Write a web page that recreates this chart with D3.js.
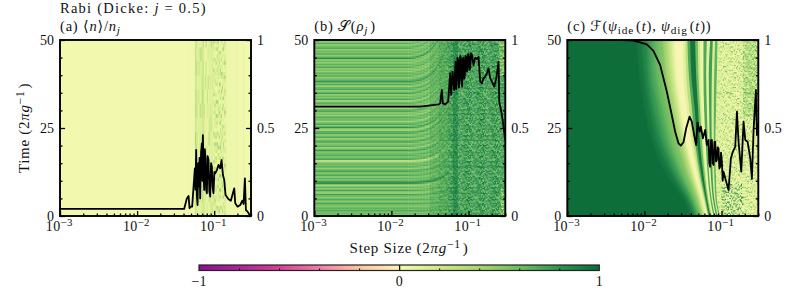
<!DOCTYPE html>
<html>
<head>
<meta charset="utf-8">
<script src="https://cdn.jsdelivr.net/npm/d3@7"></script>
<style>
html, body { margin: 0; padding: 0; background: #fff; }
text { font-family: "Liberation Serif", "DejaVu Serif", "DejaVu Sans", serif; fill: #111; }
</style>
</head>
<body>
<svg id="chart" width="799" height="288"></svg>
<script>
// axis values
const xMajorTicks = [1e-3, 1e-2, 1e-1];
const xMinorTicks = [2e-3, 3e-3, 4e-3, 5e-3, 6e-3, 7e-3, 8e-3, 9e-3, 2e-2, 3e-2, 4e-2, 5e-2, 6e-2, 7e-2, 8e-2, 9e-2, 2e-1, 3e-1];
const timeMajorTicks = [0, 25, 50];
const timeMinorTicks = [5, 10, 15, 20, 30, 35, 40, 45];
const fracMajorTicks = [0, 0.5, 1];
const fracMinorTicks = [0.1, 0.2, 0.3, 0.4, 0.6, 0.7, 0.8, 0.9];

// colour map
const cmapValues = [-1, -0.8, -0.6, -0.4, -0.2, -0.01, 0.01, 0.2, 0.4, 0.6, 0.8, 1];
const cmapColors = ['#8f0f8f', '#ad2598', '#d83f96', '#f07eab', '#fdc4a4', '#fdf0b5', '#f2f9af', '#cfe98a', '#a9d672', '#6fbd61', '#2f9450', '#0a6a38'];
const colorbarMinorTicks = [-0.8, -0.6, -0.4, -0.2, 0.2, 0.4, 0.6, 0.8];

// black curves, x is log10 of the step size
const lineALog = [-3, -1.39, -1.355, -1.333, -1.32, -1.303, -1.286, -1.251, -1.243, -1.234, -1.225, -1.216, -1.207, -1.199, -1.19, -1.182, -1.171, -1.16, -1.153, -1.147, -1.139, -1.13, -1.122, -1.113, -1.104, -1.095, -1.085, -1.074, -1.063, -1.052, -1.041, -1.03, -1.02, -1.009, -0.998, -0.987, -0.965, -0.944, -0.922, -0.905, -0.887, -0.87, -0.853, -0.814, -0.784, -0.758, -0.74, -0.727, -0.697, -0.662, -0.636, -0.619, -0.602, -0.589, -0.567, -0.532];
const lineAValue = [0.04, 0.04, 0.1, 0.114, 0.044, 0.053, 0.053, 0.271, 0.15, 0.375, 0.12, 0.0625, 0.3, 0.167, 0.33, 0.1, 0.36, 0.413, 0.2, 0.46, 0.25, 0.148, 0.38, 0.328, 0.15, 0.129, 0.34, 0.318, 0.14, 0.11, 0.3, 0.28, 0.16, 0.129, 0.25, 0.242, 0.261, 0.29, 0.271, 0.318, 0.233, 0.205, 0.119, 0.095, 0.087, 0.129, 0.157, 0.072, 0.053, 0.0625, 0.087, 0.068, 0.214, 0.034, 0.025, 0];

const lineBLog = [-3, -1.627, -1.389, -1.368, -1.346, -1.333, -1.303, -1.264, -1.238, -1.225, -1.207, -1.186, -1.168, -1.16, -1.151, -1.143, -1.134, -1.125, -1.116, -1.108, -1.099, -1.09, -1.082, -1.074, -1.065, -1.056, -1.047, -1.038, -1.03, -1.021, -1.013, -1.004, -0.995, -0.986, -0.978, -0.967, -0.956, -0.935, -0.913, -0.891, -0.87, -0.848, -0.826, -0.805, -0.783, -0.761, -0.74, -0.718, -0.697, -0.666, -0.64, -0.61, -0.601, -0.588, -0.567, -0.545, -0.525];
const lineBValue = [0.622, 0.622, 0.634, 0.64, 0.716, 0.64, 0.634, 0.65, 0.811, 0.688, 0.82, 0.716, 0.877, 0.72, 0.782, 0.9, 0.886, 0.73, 0.782, 0.91, 0.896, 0.76, 0.735, 0.89, 0.9, 0.78, 0.801, 0.91, 0.905, 0.82, 0.839, 0.92, 0.911, 0.83, 0.839, 0.925, 0.915, 0.858, 0.9, 0.892, 0.905, 0.763, 0.754, 0.782, 0.792, 0.811, 0.839, 0.782, 0.763, 0.735, 0.782, 0.877, 0.65, 0.621, 0.574, 0.508, 0.43];

const lineCLog = [-3, -2.3, -2.15, -2.056, -1.969, -1.883, -1.796, -1.709, -1.645, -1.601, -1.558, -1.528, -1.493, -1.458, -1.415, -1.385, -1.355, -1.329, -1.311, -1.285, -1.268, -1.242, -1.212, -1.19, -1.168, -1.158, -1.147, -1.136, -1.125, -1.114, -1.103, -1.092, -1.082, -1.071, -1.06, -1.05, -1.039, -1.028, -1.017, -1.006, -0.995, -0.985, -0.974, -0.939, -0.909, -0.878, -0.852, -0.822, -0.8, -0.779, -0.744, -0.714, -0.692, -0.662, -0.627, -0.606, -0.584, -0.554, -0.541, -0.523];
const lineCValue = [1, 1, 0.997, 0.987, 0.975, 0.938, 0.858, 0.706, 0.574, 0.479, 0.413, 0.4, 0.419, 0.498, 0.564, 0.536, 0.46, 0.403, 0.532, 0.479, 0.508, 0.441, 0.489, 0.403, 0.432, 0.3, 0.28, 0.43, 0.432, 0.3, 0.29, 0.42, 0.422, 0.31, 0.318, 0.39, 0.384, 0.27, 0.28, 0.36, 0.309, 0.2, 0.252, 0.195, 0.148, 0.328, 0.366, 0.394, 0.593, 0.422, 0.252, 0.536, 0.432, 0.422, 0.328, 0.21, 0.489, 0.716, 0.46, 0.527];

// panel (a): vertical bands
const aBase = 0.01;
const aBandLog = [-1.34, -1.33, -1.25, -1.225, -1.165, -1.13, -1.07, -1.009, -0.857, -0.83, -0.8, -0.79, -0.7, -0.69, -0.62, -0.61];
const aBandValue = [0.05, 0.02, 0.36, 0.12, 0.26, 0.08, 0.13, 0.08, 0.07, 0.03, 0.08, 0.03, 0.07, 0.02, 0.07];
const aNoiseLevels = [0.02, 0.04, 0.06, 0.08, 0.1, 0.13, 0.16, 0.2, 0.28, 0.42];

// panel (b): horizontal stripes, top row first
const bRowValues = [0.6, 0.52, 0.68, 0.5, 0.6, 0.72, 0.48, 0.62, 0.55, 0.7, 0.5, 0.62, 0.85, 0.5, 0.62, 0.46, 0.66, 0.55, 0.72, 0.5, 0.6, 0.45, 0.68, 0.56, 0.7, 0.48, 0.6, 0.66, 0.82, 0.55, 0.7, 0.45, 0.62, 0.72, 0.5, 0.6, 0.76, 0.48, 0.62, 0.55, 0.72, 0.42, 0.6, 0.7, 0.5, 0.65, 0.4, 0.62, 0.74, 0.52, 0.6, 0.44, 0.7, 0.58, 0.66, 0.42, 0.6, 0.72, 0.5, 0.82, 0.55, 0.42, 0.66, 0.74, 0.5, 0.6, 0.7, 0.46, 0.62, 0.76, 0.5, 0.6, 0.68, 0.44, 0.62, 0.78, 0.52, 0.6, 0.7, 0.55, 0.64, 0.72, 0.25, 0.5, 0.66, 0.55, 0.72, 0.45, 0.62, 0.74, 0.55, 0.62, 0.7, 0.5, 0.66, 0.58, 0.72, 0.92, 0.55, 0.45, 0.66, 0.5, 0.72, 0.55, 0.48, 0.74, 0.6, 0.5, 0.7, 0.6, 0.55, 0.72, 0.62, 0.5, 0.68, 0.6, 0.72, 0.55, 0.64, 0.58];
const bFanScale = [1, 1, 0.999, 0.998, 0.997, 0.995, 0.993, 0.99, 0.987, 0.984, 0.98, 0.975, 0.97, 0.964, 0.957, 0.949, 0.94, 0.93, 0.918, 0.905, 0.89, 0.875, 0.858, 0.84, 0.82, 0.8, 0.78];
const bNoiseLevels = [0.52, 0.6, 0.66, 0.7, 0.75, 0.79, 0.82, 0.86, 0.9, 0.94];
const bDarkLevels = [0.72, 0.76, 0.8, 0.84, 0.86, 0.88, 0.9, 0.92, 0.95, 0.98];
const bCornerLevels = [0.15, 0.25, 0.35, 0.42, 0.5, 0.55, 0.6, 0.68, 0.75, 0.82];

// panel (c): level curves, log10 step at each time, colour value to the right of each curve
const cBaseValue = 0.98;
const cTimes = [50, 40, 30, 20, 10, 5, 0];
const cLevels = [0.94, 0.87, 0.78, 0.7, 0.62, 0.55, 0.4, 0.25, 0.1, 0, 0.1, 0.3, 0.7, 0.95, 0.6, 0.2, 0.05, 0.7, 0.1, 0.75, 0.15, 0.65, 0.12];
const cCurves = [
  [-2.1, -2.06, -1.99, -1.88, -1.66, -1.5, -1.39],
  [-2.04, -2, -1.93, -1.82, -1.6, -1.46, -1.36],
  [-1.97, -1.95, -1.88, -1.76, -1.56, -1.43, -1.338],
  [-1.926, -1.905, -1.818, -1.71, -1.515, -1.398, -1.312],
  [-1.87, -1.85, -1.764, -1.66, -1.482, -1.376, -1.295],
  [-1.818, -1.788, -1.71, -1.615, -1.45, -1.355, -1.277],
  [-1.753, -1.719, -1.645, -1.55, -1.407, -1.32, -1.251],
  [-1.701, -1.667, -1.597, -1.502, -1.372, -1.294, -1.234],
  [-1.649, -1.623, -1.554, -1.468, -1.346, -1.277, -1.216],
  [-1.615, -1.589, -1.528, -1.45, -1.333, -1.264, -1.203],
  [-1.502, -1.494, -1.45, -1.39, -1.299, -1.242, -1.186],
  [-1.468, -1.459, -1.416, -1.364, -1.281, -1.229, -1.177],
  [-1.442, -1.424, -1.381, -1.338, -1.264, -1.216, -1.169],
  [-1.407, -1.39, -1.346, -1.312, -1.247, -1.203, -1.16],
  [-1.342, -1.329, -1.303, -1.277, -1.225, -1.19, -1.147],
  [-1.307, -1.299, -1.277, -1.251, -1.208, -1.177, -1.134],
  [-1.277, -1.277, -1.26, -1.234, -1.195, -1.165, -1.121],
  [-1.234, -1.234, -1.225, -1.203, -1.173, -1.147, -1.104],
  [-1.19, -1.199, -1.19, -1.177, -1.156, -1.13, -1.087],
  [-1.147, -1.165, -1.16, -1.151, -1.134, -1.113, -1.069],
  [-1.113, -1.126, -1.13, -1.126, -1.113, -1.095, -1.052],
  [-1.082, -1.095, -1.1, -1.1, -1.091, -1.078, -1.035],
  [-1.05, -1.06, -1.07, -1.08, -1.07, -1.06, -1.02]
];
const cSmoothCount = 10; // first curves, the wide soft flank left of the pale ridge
const cNoiseEdge = [-1.05, -1.06, -1.07, -1.08, -1.07, -1.06, -1.02];
const cNoiseLevels = [0, 0, 0.02, 0.04, 0.07, 0.1, 0.15, 0.24, 0.36, 0.56];
const cGreenLevels = [0.05, 0.1, 0.15, 0.2, 0.3, 0.36, 0.45, 0.52, 0.62, 0.72];
const cArcLevels = [0, 0, 0, 0.03, 0.08, 0.2, 0.4, 0.6, 0.75, 0.85];

// speckle texture for the noisy right hand regions
const speckle = [
  '39172658041736295081', '62805193742860517394', '17463920581374092658', '85291037646192853017',
  '40736581929057314682', '93158240763418607925', '26704915382965170483', '71549386020743928156',
  '58032674197286041539', '04687192535819763240', '37925041868150296374', '69140738256437182905',
  '12873560947921605843', '80516293074658319267', '45397812606084927135', '96261450383715064928',
  '23748906157392841056', '78015634929260573481', '51429087361847206693', '34860725184509638712'
];

const panelWidth = 191;
const panelHeight = 176;
const panelTop = 40;
const svg = d3.select('#chart');

const color = d3.scaleLinear().domain(cmapValues).range(cmapColors).clamp(true);
const xScale = d3.scaleLog().domain([1e-3, 0.3]).range([0, panelWidth]);
const timeScale = d3.scaleLinear().domain([0, 50]).range([panelHeight, 0]);
const fracScale = d3.scaleLinear().domain([0, 1]).range([panelHeight, 0]);
const logX = lg => xScale(Math.pow(10, lg));

const defs = svg.append('defs');
function addBlur(id, amount) {
    defs.append('filter').attr('id', id)
        .attr('x', '-2%').attr('y', '-2%').attr('width', '104%').attr('height', '104%')
        .append('feGaussianBlur').attr('stdDeviation', amount);
}
addBlur('crisp', 0.25);
addBlur('grain', 0.55);
addBlur('smooth', 1.3);
const barGradient = defs.append('linearGradient').attr('id', 'barGradient');
cmapValues.forEach((v, i) => {
    barGradient.append('stop').attr('offset', `${(v + 1) * 50}%`).attr('stop-color', cmapColors[i]);
});

// writes pieces of text with italics, sub and superscripts as tspans
function richText(sel, parts, size, spacing = 0) {
    sel.style('font-size', `${size}px`).style('letter-spacing', `${spacing}px`);
    parts.forEach(p => {
        const piece = typeof p === 'string' ? {t: p} : p;
        const shift = piece.sup ? -size * 0.36 : piece.sub ? size * 0.22 : 0;
        const ts = sel.append('tspan').text(piece.t);
        if (piece.i) ts.style('font-style', 'italic');
        if (shift) {
            ts.attr('dy', shift).style('font-size', `${size * 0.78}px`);
            sel.append('tspan').attr('dy', -shift).text('\u200a');
        }
    });
}

function speckleCells(g, {logFrom, logTo, levels, opacity = 1, clip = null, tFrom = 0, tTo = 50, logStep = 0.014, timeStep = 0.35}) {
    const cells = [];
    d3.range(logFrom, logTo, logStep).forEach((lg, c) => {
        d3.range(tFrom, tTo, timeStep).forEach((t, r) => {
            const row = (r + c * 7) % 20;
            const col = (c + Math.floor(r / 20) * 3) % 20;
            cells.push({lg, t, digit: +speckle[row][col]});
        });
    });
    const outer = g.append('g');
    if (clip) outer.attr('clip-path', `url(#${clip})`);
    const layer = outer.append('g').attr('opacity', opacity).attr('filter', 'url(#grain)');
    layer.selectAll('rect').data(cells).join('rect')
        .attr('x', d => logX(d.lg))
        .attr('y', d => timeScale(d.t + timeStep))
        .attr('width', d => logX(d.lg + logStep) - logX(d.lg) + 0.3)
        .attr('height', timeScale(0) - timeScale(timeStep) + 0.3)
        .attr('fill', d => color(levels[d.digit]));
}

function drawPanelA(g) {
    g.append('rect').attr('width', panelWidth).attr('height', panelHeight).attr('fill', color(aBase));
    g.append('g').attr('filter', 'url(#crisp)')
        .selectAll('rect').data(aBandValue).join('rect')
        .attr('x', (d, i) => logX(aBandLog[i]))
        .attr('width', (d, i) => logX(aBandLog[i + 1]) - logX(aBandLog[i]))
        .attr('height', panelHeight)
        .attr('fill', d => color(d));
    speckleCells(g, {logFrom: -1.25, logTo: -1.01, levels: aNoiseLevels, opacity: 0.5, timeStep: 4, logStep: 0.012});
    speckleCells(g, {logFrom: -1.01, logTo: -0.857, levels: aNoiseLevels, opacity: 0.9, timeStep: 1});
}

function drawPanelB(g) {
    const rowHeight = panelHeight / bRowValues.length;
    const stripes = g.append('g').attr('filter', 'url(#crisp)');
    stripes.selectAll('rect.row').data(bRowValues).join('rect').attr('class', 'row')
        .attr('y', (d, i) => i * rowHeight)
        .attr('width', logX(-1.8) + 0.3)
        .attr('height', rowHeight + 0.3)
        .attr('fill', d => color(d));
    // stripes bend upwards towards larger steps
    const n = bRowValues.length;
    const fanCells = [];
    bFanScale.forEach((s, c) => {
        bRowValues.forEach((v, r) => {
            const at = (n - 1 - r) * s;
            const low = Math.floor(at);
            const mix = at - low;
            const a = bRowValues[n - 1 - low];
            const b = bRowValues[Math.max(n - 2 - low, 0)];
            fanCells.push({c, r, v: a + (b - a) * mix});
        });
    });
    stripes.selectAll('rect.fan').data(fanCells).join('rect').attr('class', 'fan')
        .attr('x', d => logX(-1.8 + d.c * 0.02))
        .attr('y', d => d.r * rowHeight)
        .attr('width', logX(-1.8 + 0.02) - logX(-1.8) + 0.3)
        .attr('height', rowHeight + 0.3)
        .attr('fill', d => color(d.v));
    speckleCells(g, {logFrom: -1.5, logTo: -1.38, levels: bNoiseLevels, opacity: 0.3});
    speckleCells(g, {logFrom: -1.38, logTo: -1.26, levels: bNoiseLevels, opacity: 0.6});
    speckleCells(g, {logFrom: -1.26, logTo: -0.52, levels: bNoiseLevels});
    speckleCells(g, {logFrom: -1.2, logTo: -1.15, levels: bDarkLevels, opacity: 0.8});
    speckleCells(g, {logFrom: -0.6, logTo: -0.52, levels: bCornerLevels, tFrom: 40, tTo: 50});
    speckleCells(g, {logFrom: -0.58, logTo: -0.52, levels: bCornerLevels, tFrom: 0, tTo: 8});
}

function drawPanelC(g, clipId) {
    g.append('rect').attr('width', panelWidth).attr('height', panelHeight).attr('fill', color(cBaseValue));
    const bandArea = d3.area()
        .curve(d3.curveMonotoneY)
        .y((d, i) => timeScale(cTimes[i]))
        .x0(d => logX(d))
        .x1(panelWidth + 5);
    g.append('g').attr('filter', 'url(#smooth)')
        .selectAll('path').data(cCurves.slice(0, cSmoothCount)).join('path')
        .attr('d', bandArea)
        .attr('fill', (d, i) => color(cLevels[i]));
    g.append('g').attr('filter', 'url(#crisp)')
        .selectAll('path').data(cCurves.slice(cSmoothCount)).join('path')
        .attr('d', bandArea)
        .attr('fill', (d, i) => color(cLevels[i + cSmoothCount]));
    defs.append('clipPath').attr('id', clipId)
        .append('path').attr('d', bandArea(cNoiseEdge));
    speckleCells(g, {logFrom: -1.12, logTo: -0.98, levels: cNoiseLevels, clip: clipId, opacity: 0.7});
    speckleCells(g, {logFrom: -0.98, logTo: -0.52, levels: cNoiseLevels});
    speckleCells(g, {logFrom: -0.72, logTo: -0.52, levels: cGreenLevels, tFrom: 28, tTo: 50, opacity: 0.85});
    speckleCells(g, {logFrom: -1.0, logTo: -0.72, levels: cArcLevels, tFrom: 0, tTo: 9});
}

function drawAxes(panel) {
    const inner = (axis, size) => axis.tickSize(-size).tickFormat('');
    panel.append('g').attr('transform', `translate(0,${panelHeight})`)
        .call(inner(d3.axisBottom(xScale).tickValues(xMinorTicks), 2.5));
    panel.append('g').attr('transform', `translate(0,${panelHeight})`)
        .call(inner(d3.axisBottom(xScale).tickValues(xMajorTicks), 5));
    panel.append('g').call(inner(d3.axisLeft(timeScale).tickValues(timeMinorTicks), 2.5));
    panel.append('g').call(inner(d3.axisLeft(timeScale).tickValues(timeMajorTicks), 5));
    panel.append('g').attr('transform', `translate(${panelWidth},0)`)
        .call(inner(d3.axisRight(fracScale).tickValues(fracMinorTicks), 2.5));
    panel.append('g').attr('transform', `translate(${panelWidth},0)`)
        .call(inner(d3.axisRight(fracScale).tickValues(fracMajorTicks), 5));
    panel.selectAll('.domain').remove();
    panel.selectAll('.tick line').attr('stroke', '#000').attr('stroke-width', 1.3);

    xMajorTicks.forEach(v => {
        const label = panel.append('text')
            .attr('x', xScale(v)).attr('y', panelHeight + 15).attr('text-anchor', 'middle');
        richText(label, ['10', {t: `\u2212${Math.round(-Math.log10(v))}`, sup: true}], 14, 0.3);
    });
    timeMajorTicks.forEach(v => {
        panel.append('text').attr('x', -6).attr('y', timeScale(v) + 4.5)
            .attr('text-anchor', 'end').style('font-size', '14px').text(v);
    });
    fracMajorTicks.forEach(v => {
        panel.append('text').attr('x', panelWidth + 6).attr('y', fracScale(v) + 4.5)
            .style('font-size', '14px').text(v);
    });
}

const panels = [
    {left: 60, draw: drawPanelA, xs: lineALog, ys: lineAValue,
     title: ['(a) \u27e8', {t: 'n', i: true}, '\u27e9/', {t: 'n', i: true}, {t: 'j', i: true, sub: true}]},
    {left: 314.3, draw: drawPanelB, xs: lineBLog, ys: lineBValue,
     title: ['(b) \ud835\udcae(', {t: '\u03c1', i: true}, {t: 'j', i: true, sub: true}, ')']},
    {left: 567.3, draw: drawPanelC, xs: lineCLog, ys: lineCValue,
     title: ['(c) \u2131(', {t: '\u03c8', i: true}, {t: 'ide', sub: true}, '(', {t: 't', i: true}, '), ', {t: '\u03c8', i: true}, {t: 'dig', sub: true}, '(', {t: 't', i: true}, '))']}
];

panels.forEach((p, i) => {
    const panel = svg.append('g').attr('transform', `translate(${p.left},${panelTop})`);
    defs.append('clipPath').attr('id', `frame${i}`)
        .append('rect').attr('width', panelWidth).attr('height', panelHeight);
    const heat = panel.append('g').attr('clip-path', `url(#frame${i})`).append('g');
    p.draw(heat, `noise${i}`);
    const line = d3.line().x((d, k) => logX(p.xs[k])).y(d => fracScale(d));
    panel.append('g').attr('clip-path', `url(#frame${i})`).append('path')
        .attr('d', line(p.ys))
        .attr('fill', 'none').attr('stroke', '#000').attr('stroke-width', 1.8).attr('stroke-linejoin', 'round');
    drawAxes(panel);
    panel.append('rect').attr('width', panelWidth).attr('height', panelHeight)
        .attr('fill', 'none').attr('stroke', '#000').attr('stroke-width', 1.9);
    richText(panel.append('text').attr('x', 0).attr('y', -9), p.title, 14.5, 0.8);
});

richText(svg.append('text').attr('x', 60).attr('y', 13), ['Rabi (Dicke: ', {t: 'j', i: true}, ' = 0.5)'], 14.5, 1.25);
richText(svg.append('text').attr('text-anchor', 'middle').attr('transform', 'translate(29,128) rotate(-90)'),
    ['Time (2', {t: '\u03c0g', i: true}, {t: '\u22121', sup: true}, ')'], 15, 0.7);
richText(svg.append('text').attr('text-anchor', 'middle').attr('x', 409).attr('y', 253),
    ['Step Size (2', {t: '\u03c0g', i: true}, {t: '\u22121', sup: true}, ')'], 15, 0.7);

// colour bar
const barScale = d3.scaleLinear().domain([-1, 1]).range([199, 599.3]);
const bar = svg.append('g').attr('transform', 'translate(0,265)');
bar.append('rect').attr('x', barScale(-1)).attr('width', barScale(1) - barScale(-1)).attr('height', 5.5)
    .attr('fill', 'url(#barGradient)');
bar.append('g').attr('transform', 'translate(0,5.5)')
    .call(d3.axisBottom(barScale).tickValues(colorbarMinorTicks).tickSize(-2).tickFormat(''))
    .call(s => s.select('.domain').remove())
    .selectAll('.tick line').attr('stroke', '#000');
bar.append('g').attr('transform', 'translate(0,5.5)')
    .call(d3.axisBottom(barScale).tickValues([0]).tickSize(-5.5).tickFormat(''))
    .call(s => s.select('.domain').remove())
    .selectAll('.tick line').attr('stroke', '#000').attr('stroke-width', 1.2);
bar.append('rect').attr('x', barScale(-1)).attr('width', barScale(1) - barScale(-1)).attr('height', 5.5)
    .attr('fill', 'none').attr('stroke', '#222').attr('stroke-width', 1.2);
[-1, 0, 1].forEach(v => {
    bar.append('text').attr('x', barScale(v)).attr('y', 21).attr('text-anchor', 'middle')
        .style('font-size', '14px').text(v < 0 ? `\u2212${-v}` : v);
});
</script>
</body>
</html>
